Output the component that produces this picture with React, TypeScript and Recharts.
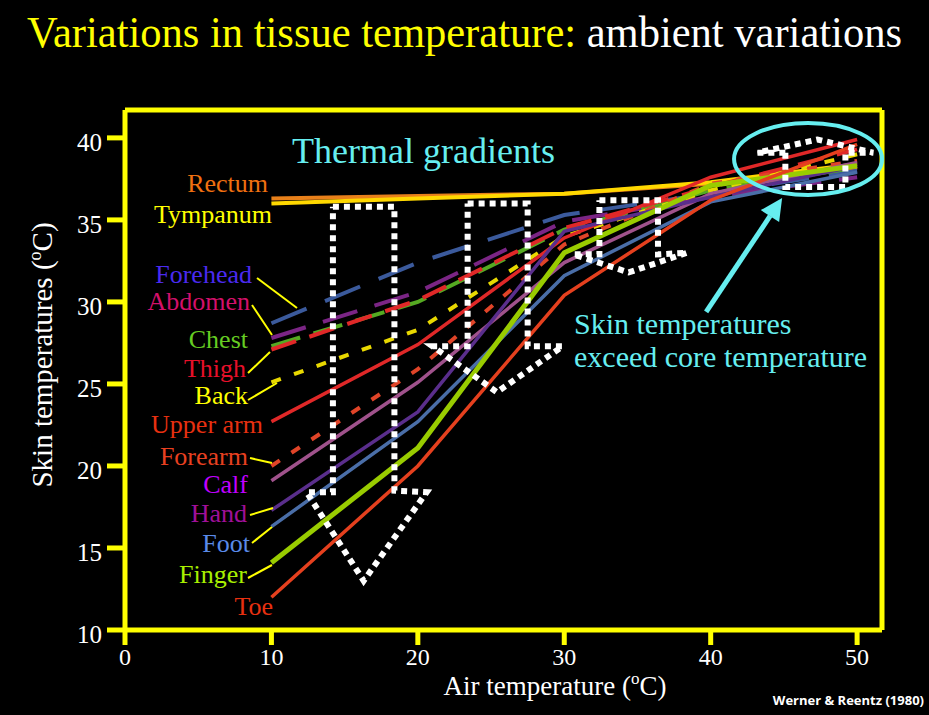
import { LineChart, Line, XAxis, YAxis, ReferenceLine, ReferenceDot } from "recharts"

// air temperature (°C) at which skin temperatures were read
const AIR_TEMPS = [10, 20, 30, 40, 50]
const X_TICKS = [0, 10, 20, 30, 40, 50]
const Y_TICKS = [10, 15, 20, 25, 30, 35, 40]

// skin / core temperatures (°C)
const RECTUM = [36.3, 36.45, 36.6, 37.2, 38.2]
const TYMPANUM = [36.0, 36.3, 36.6, 37.3, 38.4]
const FOREHEAD = [28.7, 32.4, 35.3, 36.6, 38.0]
const ABDOMEN = [27.8, 30.6, 34.9, 36.4, 37.6]
const CHEST = [27.3, 30.0, 34.4, 36.8, 38.2]
const THIGH = [27.1, 30.1, 34.5, 37.0, 39.3]
const BACK = [25.1, 28.3, 34.0, 36.8, 39.0]
const UPPER_ARM = [22.7, 27.4, 33.9, 37.6, 39.9]
const FOREARM = [20.0, 25.9, 33.5, 37.2, 38.6]
const CALF = [19.1, 25.1, 32.4, 36.6, 38.5]
const HAND = [17.3, 23.3, 34.3, 36.4, 38.3]
const FOOT = [16.3, 22.7, 31.6, 36.1, 37.9]
const FINGER = [14.1, 21.1, 33.0, 37.1, 38.3]
const TOE = [12.0, 20.0, 30.4, 36.2, 39.6]

// white dotted "gradient" arrows, outline in data units
const ARROW1_X = [14.2, 18.4, 18.4, 20.6, 16.3, 12.4, 14.2, 14.2]
const ARROW1_Y = [35.8, 35.8, 18.5, 18.4, 13.0, 18.4, 18.4, 35.8]
const ARROW2_X = [23.4, 27.5, 27.5, 29.9, 25.4, 21.0, 23.4, 23.4]
const ARROW2_Y = [36.0, 36.0, 27.3, 27.3, 24.5, 27.3, 27.3, 36.0]
const ARROW3_X = [32.4, 36.4, 36.4, 38.4, 34.4, 30.6, 32.4, 32.4]
const ARROW3_Y = [36.2, 36.2, 32.9, 33.0, 31.8, 32.9, 32.9, 36.2]
const ARROW4_X = [45.1, 43.2, 47.3, 51.1, 49.2, 49.2, 45.1, 45.1]
const ARROW4_Y = [39.1, 39.1, 39.9, 39.1, 39.1, 37.0, 37.0, 39.1]

const SERIES = [
  { name: "Rectum", values: RECTUM, color: "#e8801a", width: 4, dash: undefined },
  { name: "Tympanum", values: TYMPANUM, color: "#ffd800", width: 4, dash: undefined },
  { name: "Forehead", values: FOREHEAD, color: "#3b5a9c", width: 4, dash: "38 20" },
  { name: "Abdomen", values: ABDOMEN, color: "#7b2585", width: 4, dash: "36 18" },
  { name: "Chest", values: CHEST, color: "#55aa22", width: 4, dash: "30 14" },
  { name: "Thigh", values: THIGH, color: "#e02828", width: 4, dash: "26 14" },
  { name: "Back", values: BACK, color: "#e8d800", width: 4, dash: "10 14" },
  { name: "Upper arm", values: UPPER_ARM, color: "#e02828", width: 3.5, dash: undefined },
  { name: "Forearm", values: FOREARM, color: "#e04428", width: 4, dash: "10 14" },
  { name: "Calf", values: CALF, color: "#a0528c", width: 3.5, dash: undefined },
  { name: "Hand", values: HAND, color: "#5a2e8c", width: 3.5, dash: undefined },
  { name: "Foot", values: FOOT, color: "#4a6ea8", width: 3.5, dash: undefined },
  { name: "Finger", values: FINGER, color: "#99cc00", width: 5, dash: undefined },
  { name: "Toe", values: TOE, color: "#e5401e", width: 3.5, dash: undefined },
]

const ARROWS = [
  [ARROW1_X, ARROW1_Y],
  [ARROW2_X, ARROW2_Y],
  [ARROW3_X, ARROW3_Y],
  [ARROW4_X, ARROW4_Y],
]

// series labels on the left (pixel layout)
const LABELS = [
  { text: "Rectum", x: 268, y: 192, color: "#f07010" },
  { text: "Tympanum", x: 272, y: 223, color: "#ffff00" },
  { text: "Forehead", x: 252, y: 283, color: "#4a2af0" },
  { text: "Abdomen", x: 250, y: 310, color: "#d4106a" },
  { text: "Chest", x: 248, y: 348, color: "#66cc22" },
  { text: "Thigh", x: 246, y: 377, color: "#e8102a" },
  { text: "Back", x: 248, y: 404, color: "#ffff00" },
  { text: "Upper arm", x: 263, y: 433, color: "#e83010" },
  { text: "Forearm", x: 248, y: 465, color: "#e84020" },
  { text: "Calf", x: 248, y: 493, color: "#c000ff" },
  { text: "Hand", x: 247, y: 522, color: "#a0109a" },
  { text: "Foot", x: 250, y: 552, color: "#5a8ae8" },
  { text: "Finger", x: 247, y: 583, color: "#a8f000" },
  { text: "Toe", x: 273, y: 615, color: "#e83010" },
]

const LEADERS = [
  [257, 278, 297, 308],
  [252, 305, 272, 335],
  [248, 373, 270, 352],
  [248, 400, 277, 383],
  [250, 458, 272, 463],
  [250, 515, 273, 508],
  [252, 543, 272, 527],
  [248, 578, 272, 565],
]

const SERIF = "Liberation Serif, Times New Roman, serif"
const YELLOW = "#ffff00"
const CYAN = "#66eef0"
const serif = { fontFamily: SERIF }

const toPoints = (xs: number[], ys: number[]) => xs.map((x, i) => ({ x, y: ys[i] }))

const Ellipse = (props: any) => (
  <ellipse cx={props.cx} cy={props.cy} rx={74} ry={36} fill="none" stroke={CYAN} strokeWidth={4} />
)

const CyanArrow = (props: any) => {
  const { cx, cy } = props
  return (
    <g>
      <line x1={cx - 76} y1={cy + 114} x2={cx - 12} y2={cy + 18} stroke={CYAN} strokeWidth={5} />
      <polygon points={`${cx},${cy} ${cx - 3},${cy + 24} ${cx - 21.4},${cy + 12.2}`} fill={CYAN} />
    </g>
  )
}

export default function App() {
  return (
    <div style={{ position: "relative", width: 929, height: 715, background: "#000" }}>
      <style>{`body{margin:0;background:#000}`}</style>
      <LineChart width={929} height={715} margin={{ top: 110, right: 47, bottom: 55, left: 0 }}>
        <XAxis
          type="number"
          dataKey="x"
          domain={[0, 51.7]}
          ticks={X_TICKS}
          allowDataOverflow
          height={30}
          axisLine={{ stroke: YELLOW, strokeWidth: 5 }}
          tickLine={{ stroke: YELLOW, strokeWidth: 5 }}
          tickSize={15}
          tickMargin={3}
          tick={{ fill: "#fff", fontSize: 24, fontFamily: SERIF }}
        />
        <YAxis
          type="number"
          dataKey="y"
          domain={[10, 41.7]}
          ticks={Y_TICKS}
          allowDataOverflow
          width={125}
          axisLine={{ stroke: YELLOW, strokeWidth: 5 }}
          tickLine={{ stroke: YELLOW, strokeWidth: 5 }}
          tickSize={18}
          tickMargin={5}
          tick={{ fill: "#fff", fontSize: 25, fontFamily: SERIF, dy: 4 }}
        />
        <ReferenceLine y={41.7} stroke={YELLOW} strokeWidth={5} ifOverflow="visible" />
        <ReferenceLine x={51.7} stroke={YELLOW} strokeWidth={5} ifOverflow="visible" />

        {SERIES.map((s) => (
          <Line
            key={s.name}
            data={toPoints(AIR_TEMPS, s.values)}
            dataKey="y"
            type="linear"
            stroke={s.color}
            strokeWidth={s.width}
            strokeDasharray={s.dash}
            dot={false}
            activeDot={false}
            isAnimationActive={false}
          />
        ))}

        {ARROWS.map(([xs, ys], i) => (
          <Line
            key={`arrow-${i}`}
            data={toPoints(xs, ys)}
            dataKey="y"
            type="linear"
            stroke="#fff"
            strokeWidth={6}
            strokeDasharray="6 5"
            dot={false}
            activeDot={false}
            isAnimationActive={false}
          />
        ))}

        <ReferenceDot x={46.65} y={38.72} shape={Ellipse} ifOverflow="visible" />
        <ReferenceDot x={44.88} y={36.34} shape={CyanArrow} ifOverflow="visible" />
      </LineChart>

      <svg
        width={929}
        height={715}
        style={{ position: "absolute", left: 0, top: 0, pointerEvents: "none" }}
      >
        <text x={27} y={47} fontSize={44} fill={YELLOW} style={serif} textLength={875} lengthAdjust="spacingAndGlyphs">
          Variations in tissue temperature: <tspan fill="#fff">ambient variations</tspan>
        </text>

        <text x={292} y={163} fontSize={36} fill={CYAN} style={serif}>Thermal gradients</text>
        <text x={574} y={334} fontSize={30} fill={CYAN} style={serif}>Skin temperatures</text>
        <text x={574} y={367} fontSize={30} fill={CYAN} style={serif}>exceed core temperature</text>

        {LABELS.map((l) => (
          <text key={l.text} x={l.x} y={l.y} fontSize={26} fill={l.color} textAnchor="end" style={serif}>
            {l.text}
          </text>
        ))}
        {LEADERS.map(([x1, y1, x2, y2], i) => (
          <line key={i} x1={x1} y1={y1} x2={x2} y2={y2} stroke={YELLOW} strokeWidth={2} />
        ))}

        <text transform="translate(52,355) rotate(-90)" fontSize={29} fill="#fff" textAnchor="middle" style={serif}>
          Skin temperatures (<tspan fontSize={18} dy={-11}>o</tspan><tspan dy={11}>C)</tspan>
        </text>
        <text x={555} y={695} fontSize={27} fill="#fff" textAnchor="middle" style={serif}>
          Air temperature (<tspan fontSize={17} dy={-11}>o</tspan><tspan dy={11}>C)</tspan>
        </text>

        <text
          x={924}
          y={705}
          fontSize={13}
          fontWeight="bold"
          fill="#fff"
          textAnchor="end"
          style={{ fontFamily: "Open Sans, Liberation Sans, sans-serif" }}
        >
          Werner &amp; Reentz (1980)
        </text>
      </svg>
    </div>
  )
}
